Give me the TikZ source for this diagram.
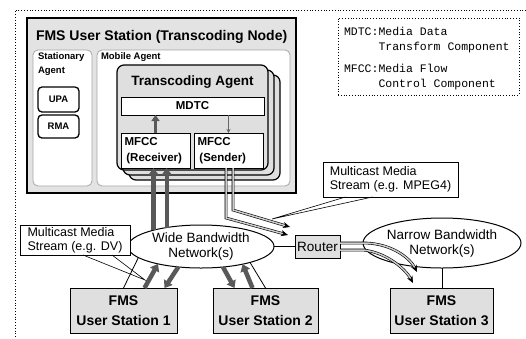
\documentclass[tikz,border=0pt]{standalone}
\usepackage{fontspec}
\setmainfont{Liberation Sans}
\newfontfamily\legendfont{Liberation Mono}
\usetikzlibrary{arrows.meta,shapes.geometric}
\begin{document}
\begin{tikzpicture}[x=1pt,y=-1pt,
  every node/.style={inner sep=0pt, outer sep=0pt},
  bgfill/.style={fill=gray!22},
  panel/.style={draw=gray!70, fill=white, rounded corners=5pt, line width=0.8pt},
  agentbox/.style={draw, line width=1.2pt, fill=gray!25, rounded corners=7pt, minimum width=151pt, minimum height=105pt},
  compbox/.style={draw, line width=1pt, fill=white},
  smallbox/.style={draw, line width=1.3pt, fill=white, rounded corners=4pt, minimum width=41pt, font=\bfseries\fontsize{9.5}{11}\selectfont},
  stationbox/.style={draw, line width=1pt, fill=gray!25, minimum height=45pt, align=center, font=\bfseries\fontsize{14}{20}\selectfont},
  net/.style={draw, ellipse, line width=1pt, fill=white, align=center, font=\fontsize{13.5}{15}\selectfont},
  callout/.style={draw, line width=0.6pt, fill=white, align=left, font=\fontsize{12.5}{14}\selectfont},
  link/.style={draw, line width=0.8pt},
  fat/.style={draw=black!65, line width=4.5pt, -{Triangle[length=7pt,width=10pt]}},
  dbl/.style={draw=black, double=gray!40, double distance=1.5pt, line width=0.6pt, -{Stealth[length=7pt,width=6pt]}}
]
\useasboundingbox (0,0) rectangle (526,338);
\draw[dotted, line width=0.8pt] (526,10) -- (15,10) -- (15,338);

% FMS user station (transcoding node)
\node[draw, line width=1.4pt, bgfill, minimum width=269pt, minimum height=175pt] (fms) at (161.5,105.5) {};
\node[anchor=west, font=\bfseries\fontsize{14}{16}\selectfont] (fmstitle) at (36,37) {FMS User Station (Transcoding Node)};
\node[panel, minimum width=59pt, minimum height=136pt] (stat) at (62.5,118) {};
\node[anchor=west, align=left, font=\bfseries\fontsize{9.5}{14}\selectfont] (stattitle) at (38,64) {Stationary\\Agent};
\node[smallbox, minimum height=25pt] (upa) at (58.5,99.5) {UPA};
\node[smallbox, minimum height=23pt] (rma) at (58.5,126.5) {RMA};
\node[panel, minimum width=193pt, minimum height=136pt] (mob) at (193.5,118) {};
\node[anchor=west, font=\bfseries\fontsize{9.5}{11}\selectfont] (mobtitle) at (101,57) {Mobile Agent};
\node[agentbox] (ta3) at (204.5,127.5) {};
\node[agentbox] (ta2) at (198.5,122.5) {};
\node[agentbox] (ta) at (192.5,117.5) {};
\node[font=\bfseries\fontsize{13.5}{15}\selectfont] (tatitle) at (192.5,82) {Transcoding Agent};
\node[compbox, minimum width=143pt, minimum height=18pt, font=\bfseries\fontsize{11.5}{13}\selectfont] (mdtc) at (192.5,106) {MDTC};
\node[compbox, minimum width=69pt, minimum height=35pt, text width=62pt, align=left, font=\bfseries\fontsize{11.5}{16}\selectfont] (rc) at (155.5,150.5) {MFCC\\\,(Receiver)};
\node[compbox, minimum width=69pt, minimum height=35pt, text width=62pt, align=left, font=\bfseries\fontsize{11.5}{16}\selectfont] (sd) at (228.5,150.5) {MFCC\\\,(Sender)};

% legend
\node[draw, dotted, line width=0.8pt, minimum width=181pt, minimum height=77pt] (legend) at (428.5,56.5) {};
\node[anchor=west, align=left, font=\legendfont\fontsize{11.5}{15}\selectfont] (legendtxt) at (344,59) {MDTC:Media Data\\\phantom{MDTC:}Transform Component\\[7pt]MFCC:Media Flow\\\phantom{MFCC:}Control Component};

% networks
\node[net, minimum width=146pt, minimum height=43pt] (wbn) at (201,246.5) {Wide Bandwidth\\Network(s)};
\node[net, minimum width=158pt, minimum height=50pt] (nbn) at (442,243) {Narrow Bandwidth\\Network(s)};
\node[draw, line width=1pt, fill=gray!25, minimum width=45pt, minimum height=23pt, font=\fontsize{13.5}{15}\selectfont] (router) at (317.5,246.5) {Router};

% stations
\node[stationbox, minimum width=107pt] (st1) at (123.5,310.5) {FMS\\User Station 1};
\node[stationbox, minimum width=105pt] (st2) at (265.5,310.5) {FMS\\User Station 2};
\node[stationbox, minimum width=103pt] (st3) at (441.5,310.5) {FMS\\User Station 3};

% plain links
\draw[link] (wbn) -- (router);
\draw[link] (nbn.south) -- (nbn.south |- st3.north);
\draw[link] (wbn.190) -- (st1.north);
\draw[link] (wbn.-18) -- (st2.north);

% media flows inside the node
\draw[fat, line width=3.5pt, -{Triangle[length=6pt,width=8pt]}] (rc.north) -- (rc.north |- mdtc.south);
\draw[draw=black!60, line width=0.8pt, -{Stealth[length=4pt,width=4pt]}] (sd.north |- mdtc.south) -- (sd.north);

% wide network <-> receiver and stations
\draw[fat] (wbn.161) -- (wbn.161 |- rc.south);
\draw[fat] (wbn.151) -- (wbn.151 |- rc.south);
\draw[fat] ([xshift=21pt]st1.north) -- (wbn.202);
\draw[fat] (wbn.222) -- ([xshift=41pt]st1.north);
\draw[fat] (wbn.317) -- ([xshift=-31pt]st2.north);
\draw[fat] ([xshift=-13pt]st2.north) -- (wbn.337);

% sender -> router
\draw[dbl] ([xshift=-2.5pt]sd.south) -- ++(0,50) -- ([xshift=-7pt]router.north west);
\draw[dbl] ([xshift=4.5pt]sd.south) -- ++(0,42) -- ([xshift=-5pt,yshift=8pt]router.north west);

% router -> narrow network
\coordinate (n1) at (417,272);
\coordinate (n2) at (413,283);
\draw[dbl] ([yshift=3.5pt]router.east) -- (366,243) .. controls (392,244) and (410,258) .. (n1);
\draw[dbl] ([yshift=-3.5pt]router.east) -- (363,250) .. controls (385,252) and (405,268) .. (n2);

% callouts
\node[callout, minimum width=110pt, minimum height=30pt] (cdv) at (75,240) {Multicast Media\\Stream (e.g. DV)};
\coordinate (cdvtip) at (145,280);
\draw[line width=0.6pt] ([xshift=8pt]cdv.south) -- (cdvtip) -- ([xshift=37pt]cdv.south);
\node[callout, minimum width=135pt, minimum height=35pt] (cmp) at (390.5,179.5) {Multicast Media\\Stream (e.g. MPEG4)};
\coordinate (cmptip) at (272,219);
\draw[line width=0.6pt] ([xshift=-45pt]cmp.south) -- (cmptip) -- ([xshift=-18pt]cmp.south);
\end{tikzpicture}
\end{document}
